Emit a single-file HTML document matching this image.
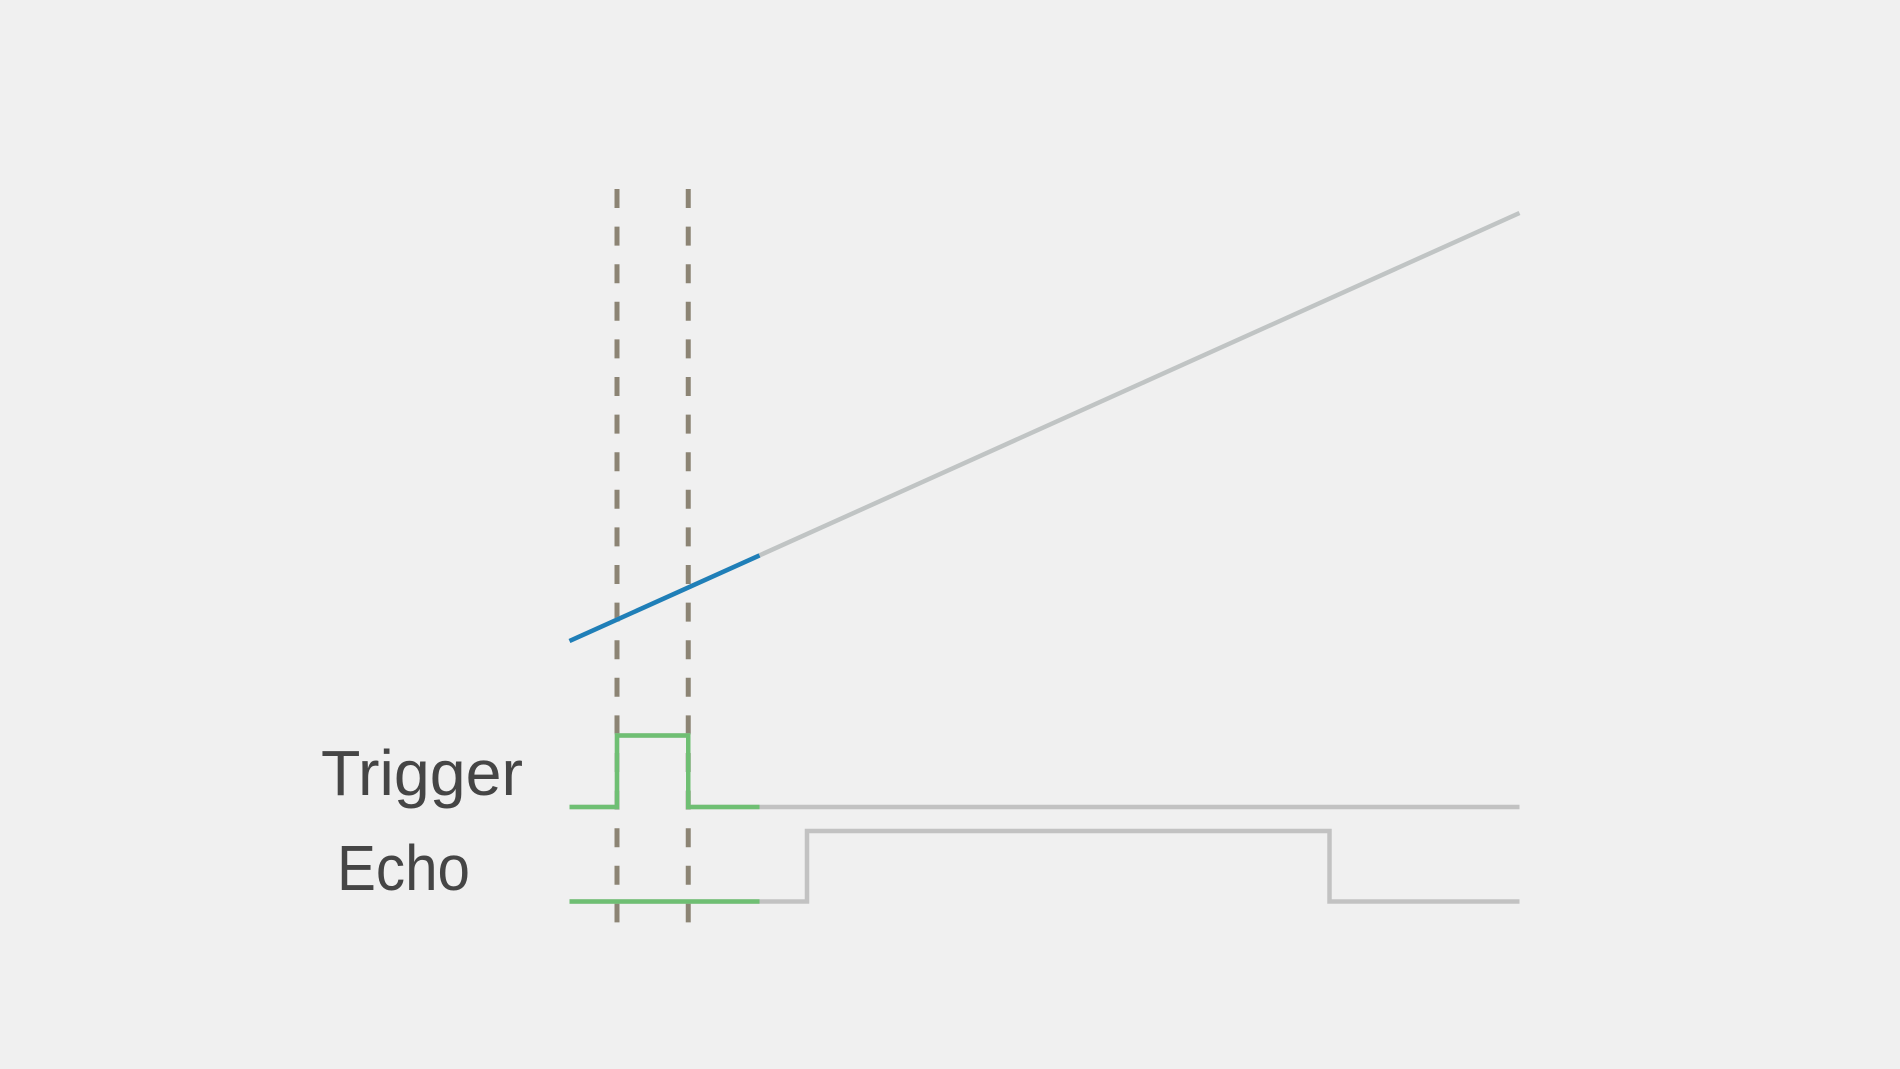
<!DOCTYPE html>
<html><head><meta charset="utf-8"><style>
html,body{margin:0;padding:0;background:#f0f0f0;}
svg{display:block;}
text{font-family:"Liberation Sans",sans-serif;fill:#454545;}
</style></head><body>
<svg id="chart" width="1900" height="1069" viewBox="0 0 1900 1069">
<rect width="1900" height="1069" fill="#f0f0f0"/>
<text x="321" y="795" font-size="64" textLength="202" lengthAdjust="spacingAndGlyphs">Trigger</text>
<text x="337" y="890" font-size="64" textLength="133" lengthAdjust="spacingAndGlyphs">Echo</text>
<g id="marks"></g>
</svg>
<script>
// time domain (arbitrary units)
const timeDomain = [0, 160];
const markerTimes = [8, 20];
const highlightEnd = 32;
const rampTimes = [0, 160];
const rampValues = [0, 100];
const triggerTimes = [0, 8, 20, 160];
const triggerLevels = [0, 1, 0, 0];
const echoTimes = [0, 40, 128, 160];
const echoLevels = [0, 1, 0, 0];

const X0 = 569.5, X1 = 1519.5;
function x(t){ return X0 + (t - timeDomain[0]) / (timeDomain[1] - timeDomain[0]) * (X1 - X0); }
function yRamp(v){ return 641 + (213 - 641) * v / 100; }
function yTrig(l){ return 807 + (735.5 - 807) * l; }
function yEcho(l){ return 901.5 + (831 - 901.5) * l; }

const NS = "http://www.w3.org/2000/svg";
const g = document.getElementById('marks');
function mk(tag, attrs){ const e = document.createElementNS(NS, tag); for (const k in attrs) e.setAttribute(k, attrs[k]); g.appendChild(e); return e; }

// dashed markers
markerTimes.forEach((t, i) => {
  const l = mk('line', {x1:x(t), x2:x(t), y1:189, y2:934, stroke:'#8c8474', 'stroke-width':5, 'stroke-dasharray':'19 18.6'});
  
  
});

function stepPath(times, levels, yf, tMin, tMax){
  let pts = [];
  for (let i = 0; i < times.length; i++){
    if (times[i] > tMax){
      pts.push([tMax, pts[pts.length-1][1]]);
      break;
    }
    if (i > 0) pts.push([times[i], pts[pts.length-1][1]]);
    pts.push([times[i], levels[i]]);
  }
  return 'M' + pts.map(p => x(p[0]) + ',' + yf(p[1])).join(' L');
}
function drawStep(times, levels, yf, name){
  const gray = mk('path', {d: stepPath(times, levels, yf, timeDomain[0], timeDomain[1]), fill:'none', stroke:'#c2c2c2', 'stroke-width':4.5});
  
  
  const hi = mk('path', {d: stepPath(times, levels, yf, timeDomain[0], highlightEnd), fill:'none', stroke:'#6fbf73', 'stroke-width':4.5});
  
  
}
drawStep(triggerTimes, triggerLevels, yTrig, 'trigger');
drawStep(echoTimes, echoLevels, yEcho, 'echo');

function rampAt(t){ return rampValues[0] + (rampValues[1]-rampValues[0]) * (t - rampTimes[0])/(rampTimes[1]-rampTimes[0]); }
const ramp = mk('line', {x1:x(rampTimes[0]), y1:yRamp(rampValues[0]), x2:x(rampTimes[1]), y2:yRamp(rampValues[1]), stroke:'#c0c4c4', 'stroke-width':4.5});


const rampHi = mk('line', {x1:x(rampTimes[0]), y1:yRamp(rampValues[0]), x2:x(highlightEnd), y2:yRamp(rampAt(highlightEnd)), stroke:'#1f7fb8', 'stroke-width':4.5});


</script>
</body></html>
